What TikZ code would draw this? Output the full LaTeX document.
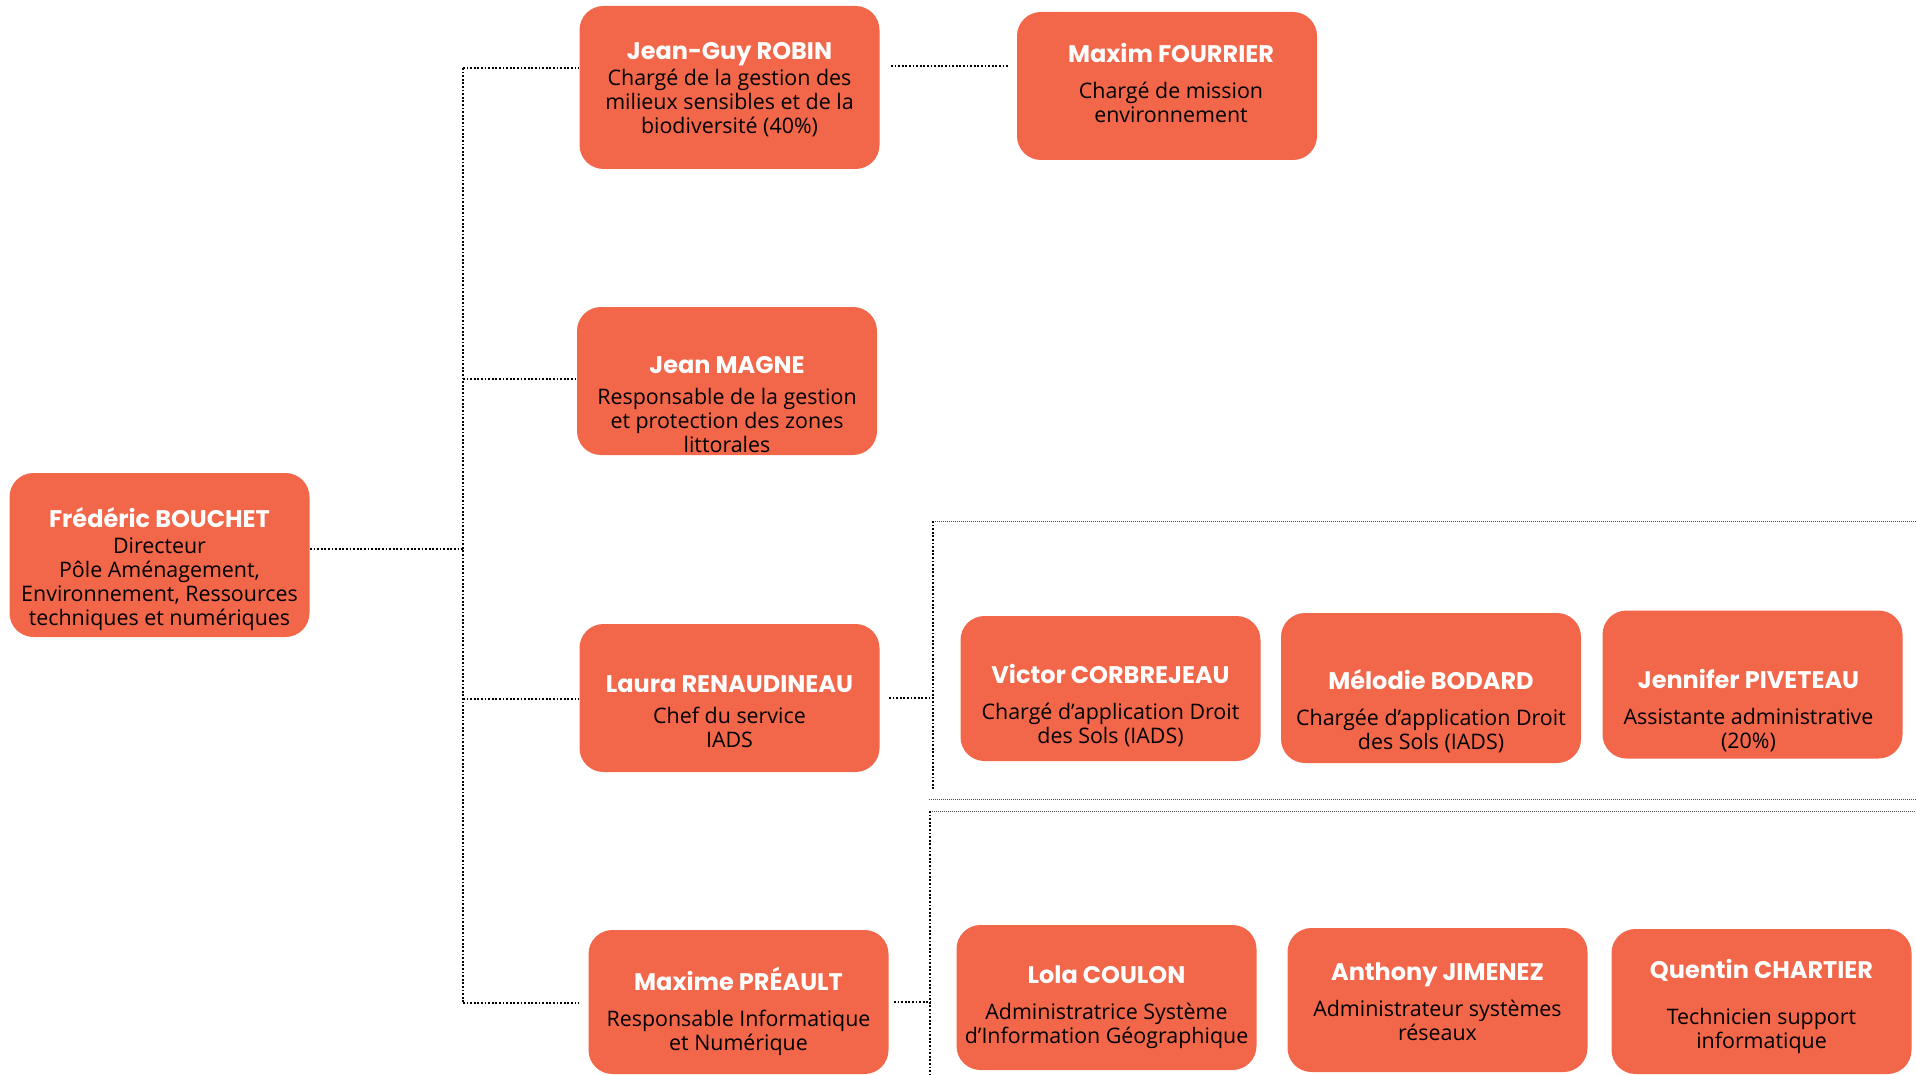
\documentclass[tikz,border=0pt]{standalone}
\usepackage{fontspec}
\setmainfont{Open Sans}
\newfontfamily\namefont{Poppins}
\definecolor{boxorange}{HTML}{F26649}
\newcommand{\personname}[1]{{\namefont\bfseries\fontsize{12}{12}\selectfont\color{white}#1}}
\tikzset{
	person/.style={fill=boxorange, rounded corners=12pt, minimum width=150pt, minimum height=74pt, inner sep=0pt},
	persontext/.style={align=center, font=\fontsize{10.7}{12}\selectfont, text=black, inner sep=0pt, yshift=-1pt},
	link/.style={line width=0.9pt, dash pattern=on 0.9pt off 0.9pt},
	frame/.style={line width=0.5pt, black!70, dash pattern=on 0.5pt off 0.5pt}
}
\begin{document}
\begin{tikzpicture}[x=0.5pt, y=-0.5pt]
	\useasboundingbox (0,0) rectangle (1916,1075);
	% people
	\node[person, minimum height=82pt] (bouchet) at (159.5,555) {};
	\node[persontext, yshift=-6pt] (bouchet-t) at (bouchet) {\personname{Frédéric BOUCHET}\\[1pt]Directeur\\Pôle Aménagement,\\Environnement, Ressources\\techniques et numériques};
	\node[person, minimum height=81.5pt] (robin) at (729.5,87.5) {};
	\node[persontext] (robin-t) at (robin) {\personname{Jean-Guy ROBIN}\\[1pt]Chargé de la gestion des\\milieux sensibles et de la\\biodiversité (40\%)};
	\node[person] (fourrier) at (1167,86) {};
	\node[persontext, yshift=2.5pt, xshift=2pt] (fourrier-t) at (fourrier) {\personname{Maxim FOURRIER}\\[6pt]Chargé de mission\\environnement};
	\node[person] (magne) at (727,381) {};
	\node[persontext, yshift=-11pt] (magne-t) at (magne) {\personname{Jean MAGNE}\\[3.5pt]Responsable de la gestion\\et protection des zones\\littorales};
	\node[person] (laura) at (729.5,698) {};
	\node[persontext, yshift=-6pt] (laura-t) at (laura) {\personname{Laura RENAUDINEAU}\\[3.5pt]Chef du service\\IADS};
	\node[person, minimum height=72pt] (preault) at (738.5,1002) {};
	\node[persontext, yshift=-3.5pt] (preault-t) at (preault) {\personname{Maxime PRÉAULT}\\[6pt]Responsable Informatique\\et Numérique};
	% IADS team
	\node[person, minimum height=72.5pt] (victor) at (1110.5,688.5) {};
	\node[persontext, yshift=-7.5pt] (victor-t) at (victor) {\personname{Victor CORBREJEAU}\\[6pt]Chargé d’application Droit\\des Sols (IADS)};
	\node[person, minimum height=75pt] (melodie) at (1431,688) {};
	\node[persontext, yshift=-10.5pt] (melodie-t) at (melodie) {\personname{Mélodie BODARD}\\[6pt]Chargée d’application Droit\\des Sols (IADS)};
	\node[person] (jennifer) at (1752.5,684.5) {};
	\node[persontext, yshift=-12pt, xshift=-2pt] (jennifer-t) at (jennifer) {\personname{Jennifer PIVETEAU}\\[6pt]Assistante administrative\\(20\%)};
	% IT team
	\node[person, minimum height=72.5pt] (lola) at (1106.5,997.5) {};
	\node[persontext, yshift=-4pt] (lola-t) at (lola) {\personname{Lola COULON}\\[6pt]Administratrice Système\\d’Information Géographique};
	\node[person, minimum height=72pt] (anthony) at (1437.5,1000) {};
	\node[persontext] (anthony-t) at (anthony) {\personname{Anthony JIMENEZ}\\[6pt]Administrateur systèmes\\réseaux};
	\node[person, minimum height=72.5pt] (quentin) at (1761.5,1001.5) {};
	\node[persontext, yshift=-1.5pt] (quentin-t) at (quentin) {\personname{Quentin CHARTIER}\\[11pt]Technicien support\\informatique};

	% trunk
	\coordinate (t-robin) at (463,68);
	\coordinate (t-magne) at (463,379);
	\coordinate (t-bouchet) at (463,549);
	\coordinate (t-laura) at (463,699);
	\coordinate (t-preault) at (463,1003);
	\coordinate (rf) at (950,66);
	\coordinate (east-edge) at (1916,0);
	\draw[link] (t-robin) -- (t-preault);
	\draw[link] (bouchet.east |- t-bouchet) -- (t-bouchet);
	\draw[link] (t-robin) -- (t-robin -| robin.west);
	\draw[link] (t-magne) -- (t-magne -| magne.west);
	\draw[link] (t-laura) -- (t-laura -| laura.west);
	\draw[link] (t-preault) -- ([xshift=-4.5pt]t-preault -| preault.west);
	\draw[link] ([xshift=5.5pt]robin.east |- rf) -- ([xshift=-4pt]fourrier.west |- rf);

	% IADS group
	\coordinate (g1-top) at (933,521);
	\coordinate (g1-bot) at (933,790);
	\coordinate (g1-base) at (929,799);
	\draw[frame] (g1-top) -- (g1-top -| east-edge);
	\draw[frame] (g1-base) -- (g1-base -| east-edge);
	\draw[link] (g1-top) -- (g1-bot);
	\draw[link] ([xshift=4.5pt]laura.east) -- (laura.east -| g1-top);

	% IT group
	\coordinate (g2-top) at (930,811);
	\coordinate (g2-bot) at (930,1075);
	\draw[frame] (g2-top) -- (g2-top -| east-edge);
	\draw[link] (g2-top) -- (g2-bot);
	\draw[link] ([xshift=2.5pt]preault.east) -- (preault.east -| g2-top);
\end{tikzpicture}
\end{document}
